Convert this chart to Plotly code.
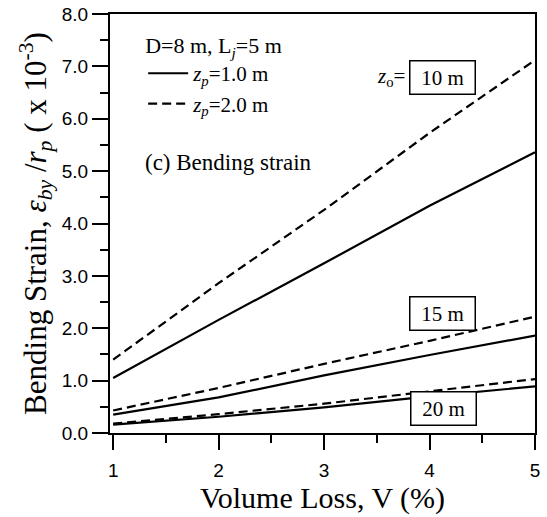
import plotly.graph_objects as go

# Volume loss V (%) and bending strain eps_by / r_p (x 10^-3)
volume_loss = [1, 2, 3, 4, 5]
z10_zp1 = [1.05, 2.16, 3.24, 4.34, 5.36]
z10_zp2 = [1.40, 2.86, 4.26, 5.73, 7.12]
z15_zp1 = [0.35, 0.68, 1.10, 1.49, 1.86]
z15_zp2 = [0.43, 0.86, 1.32, 1.76, 2.22]
z20_zp1 = [0.16, 0.31, 0.49, 0.70, 0.89]
z20_zp2 = [0.18, 0.36, 0.56, 0.80, 1.03]

depth_labels = ["10 m", "15 m", "20 m"]
label_pos_x = [4.12, 4.12, 4.13]
label_pos_y = [6.79, 2.29, 0.46]

SERIF = "Liberation Serif, Times New Roman, serif"
SANS = "Liberation Sans, Arial, sans-serif"

fig = go.Figure()

series = [
    (z10_zp1, "solid", "zp1", True),
    (z10_zp2, "9px,5px", "zp2", True),
    (z15_zp1, "solid", "zp1", False),
    (z15_zp2, "9px,5px", "zp2", False),
    (z20_zp1, "solid", "zp1", False),
    (z20_zp2, "9px,5px", "zp2", False),
]
names = {"zp1": "<i>z</i><sub><i>p</i></sub>=1.0 m",
         "zp2": "<i>z</i><sub><i>p</i></sub>=2.0 m"}

for values, dash, grp, show in series:
    fig.add_trace(go.Scatter(
        x=volume_loss, y=values, mode="lines",
        line=dict(color="black", width=2.2, dash=dash),
        name=names[grp], legendgroup=grp, showlegend=show,
    ))

# boxed depth labels
for text, xv, yv in zip(depth_labels, label_pos_x, label_pos_y):
    fig.add_annotation(
        x=xv, y=yv, xref="x", yref="y", text=text, showarrow=False,
        font=dict(family=SERIF, size=21, color="black"),
        bordercolor="black", borderwidth=1.5, borderpad=3,
        bgcolor="white", width=58, height=26,
    )

fig.add_annotation(
    x=3.79, y=6.79, xref="x", yref="y", xanchor="right",
    text="<i>z</i><sub>o</sub>=", showarrow=False,
    font=dict(family=SERIF, size=21, color="black"),
)

fig.add_annotation(
    x=1.28, y=5.16, xref="x", yref="y", xanchor="left",
    text="(c) Bending strain", showarrow=False,
    font=dict(family=SERIF, size=23, color="black"),
)

fig.update_layout(
    width=547, height=517,
    margin=dict(l=110, r=12, t=14, b=84),
    paper_bgcolor="white", plot_bgcolor="white",
    showlegend=True,
    legend=dict(
        x=0.078, y=0.975, xanchor="left", yanchor="top",
        bgcolor="rgba(0,0,0,0)",
        font=dict(family=SERIF, size=21, color="black"),
        title=dict(text="D=8 m, L<sub><i>j</i></sub>=5 m",
                   font=dict(family=SERIF, size=22, color="black")),
        itemwidth=40, tracegroupgap=0,
    ),
    xaxis=dict(
        range=[0.97, 5.0], tickvals=volume_loss, automargin=False,
        ticks="outside", ticklen=15, tickwidth=1.5, tickcolor="black",
        minor=dict(dtick=0.5, ticks="outside", ticklen=8, tickwidth=1.5, tickcolor="black"),
        showline=True, linecolor="black", linewidth=2, mirror=True,
        showgrid=False, zeroline=False,
        tickfont=dict(family=SANS, size=19, color="black"),
        ticklabelstandoff=4,
        title=dict(text="Volume Loss, V (%)",
                   font=dict(family=SERIF, size=30, color="black"), standoff=4),
    ),
    yaxis=dict(
        range=[0, 8], dtick=1, tickformat=".1f", automargin=False,
        ticks="outside", ticklen=16, tickwidth=1.5, tickcolor="black",
        minor=dict(dtick=0.5, ticks="outside", ticklen=8, tickwidth=1.5, tickcolor="black"),
        showline=True, linecolor="black", linewidth=2, mirror=True,
        showgrid=False, zeroline=False,
        tickfont=dict(family=SANS, size=19, color="black"),
        title=dict(text="Bending Strain, <i>ε</i><sub><i>by</i></sub> /<i>r</i><sub><i>p</i></sub> ( x 10<sup>-3</sup>)",
                   font=dict(family=SERIF, size=31, color="black"), standoff=6),
    ),
)

fig.write_html("out.html")
